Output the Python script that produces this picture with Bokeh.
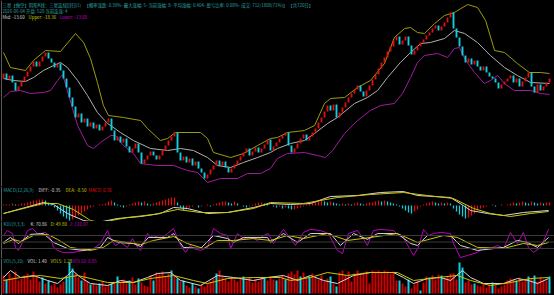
from bokeh.plotting import figure
from bokeh.layouts import column
from bokeh.models import Range1d, Label, Span
from bokeh.embed import file_html
from bokeh.resources import INLINE

# ---------------- data ----------------
first_open = 14.8
close = [15.3, 14.7, 15.1, 14.4, 13.6, 14.0, 14.5, 15.0, 15.5, 16.0,
         16.5, 16.0, 16.5, 17.0, 17.4, 16.8, 16.4, 15.9, 16.3, 15.6,
         14.8, 13.9, 12.9, 12.0, 10.9, 11.3, 10.4, 10.8, 10.0, 10.4,
         9.8, 10.2, 9.6, 10.0, 10.4, 10.8, 9.6, 8.6, 9.0, 8.4,
         8.8, 8.0, 7.4, 7.8, 8.3, 7.4, 6.3, 6.7, 7.1, 7.5,
         7.1, 6.7, 7.1, 7.6, 8.1, 8.6, 9.0, 9.4, 7.4, 6.6,
         7.0, 6.4, 6.8, 6.1, 6.5, 5.8, 5.4, 4.8, 5.2, 5.7,
         6.1, 6.6, 6.1, 6.5, 5.9, 5.4, 5.8, 6.2, 6.6, 7.0,
         7.4, 7.8, 7.1, 7.5, 7.9, 7.4, 7.8, 8.2, 8.7, 7.6,
         8.0, 8.4, 8.8, 9.1, 9.4, 8.1, 7.4, 7.8, 8.3, 8.8,
         9.2, 8.6, 9.0, 9.4, 9.8, 10.4, 10.9, 11.5, 12.1, 11.6,
         12.2, 10.9, 11.4, 11.9, 12.4, 12.9, 13.3, 13.7, 14.1, 13.5,
         13.0, 13.6, 14.1, 14.7, 15.2, 15.8, 16.4, 16.9, 17.5, 18.0,
         18.6, 19.0, 18.2, 18.6, 19.0, 18.1, 17.2, 17.6, 18.0, 18.4,
         18.7, 19.1, 19.4, 19.8, 20.1, 19.6, 20.0, 20.4, 20.9, 21.4,
         19.8, 18.9, 18.0, 17.1, 16.4, 16.8, 16.2, 16.6, 16.0, 15.6,
         16.0, 15.4, 15.0, 14.8, 14.4, 13.8, 14.2, 14.5, 14.8, 15.1,
         14.4, 14.8, 14.0, 14.5, 14.9, 15.4, 14.0, 13.4, 14.2, 13.6,
         14.0, 14.4, 14.8]

upper_x = [0, 2.3, 7.3, 10, 14, 19, 24, 26.7, 29, 31.3, 33.3, 35, 40, 45.7, 48, 52.3,
           54.7, 57.3, 65.7, 68, 70, 75.7, 80, 84.7, 89, 91.3, 94.7, 100.3, 103.7, 107,
           109, 113.7, 118, 122.3, 127, 130.3, 133.7, 135.7, 138, 140.3, 143.7, 147,
           150.3, 154.7, 158, 160.7, 163.7, 167, 171.3, 175.3, 179, 182]
upper_y = [17.4, 15.9, 15.6, 16.6, 17.6, 17.5, 19.3, 18.4, 16.8, 14.4, 12.1, 11.1, 10.9,
           10.6, 9.8, 8.6, 8.8, 9.4, 9.4, 8.8, 7.4, 6.9, 7.3, 8.1, 8.8, 8.9, 9.4, 9.6,
           10.1, 12.3, 12.8, 12.9, 13.9, 14.6, 16.3, 18.9, 19.8, 19.9, 19.4, 19.3, 20.3,
           21.1, 21.4, 22.2, 21.9, 20.6, 17.6, 17.4, 16.3, 15.4, 15.4, 15.3]
mid_x = [0, 3.3, 7.3, 10, 13.3, 16.7, 19, 21.3, 24.7, 28, 31.3, 34.7, 39, 43.3, 49, 54.7,
         59, 63.3, 68, 71.3, 75.7, 80, 84.7, 89, 91.3, 95.7, 100.3, 103.7, 108, 111.3,
         117, 121.3, 124.7, 128, 132.3, 135.7, 139, 142.3, 147, 150.3, 153.7, 158, 162.3,
         167, 171.3, 175.7, 182]
mid_y = [14.8, 14.6, 14.5, 14.9, 15.6, 16.1, 16.4, 15.9, 14.6, 13.1, 11.4, 10.3, 9.4, 8.6,
         7.8, 7.6, 7.8, 7.6, 6.9, 6.1, 5.9, 6.4, 6.9, 7.4, 7.8, 8.3, 8.6, 9.3, 10.3, 10.9,
         12.3, 12.9, 13.6, 14.9, 16.4, 17.4, 18.3, 18.4, 18.8, 19.6, 19.3, 18.4, 17.1,
         15.9, 15.1, 14.4, 14.3]
lower_x = [0, 2.3, 5.7, 9, 13.3, 15.7, 18, 19.7, 21.3, 23, 24.7, 28, 30, 32.3, 35.7, 37.3,
           40, 43.3, 45.7, 51.3, 56.7, 61.3, 64.7, 68, 72.3, 78, 81.3, 85.7, 89, 91.3,
           94.7, 100.3, 104.7, 107.3, 109.7, 113.7, 118, 122.3, 125.7, 130.3, 133, 135.7,
           138, 140.3, 144.7, 148, 150.3, 152, 153.7, 157, 160.3, 162.3, 164.7, 167, 170.3,
           175.7, 179, 182]
lower_y = [12.9, 13.5, 13.6, 13.3, 13.4, 13.6, 14.6, 15.2, 13.6, 11.8, 10.1, 8.1, 7.8, 8.4,
           9.1, 9.1, 8.1, 7.3, 6.3, 6.1, 6.1, 5.6, 5.4, 4.4, 4.8, 4.8, 5.3, 5.3, 5.8, 6.8,
           7.3, 7.4, 7.1, 6.9, 7.6, 9.3, 10.6, 11.6, 12.1, 12.3, 13.3, 14.9, 16.4, 17.1,
           17.3, 16.9, 17.8, 17.9, 16.8, 15.4, 14.3, 14.6, 15.1, 14.3, 13.6, 13.6, 13.3, 13.2]

macd_hist = [0.1, 0.1, 0.1, 0.2, 0.1,
             0.1, 0.2, 0.2, 0.3, 0.4, 0.5, 0.5, 0.6, 0.6,
             0.5, 0.3, 0.1,
             -0.2, -0.5, -0.8, -1.1, -1.3, -1.5,
             -1.4,
             -1.2, -1.0, -0.8, -0.6, -0.4, -0.2,
             -0.1, 0.0, 0.1, 0.1,
             0.2, 0.4, 0.5, 0.3,
             0.1, -0.1, -0.2, -0.1,
             0.1, 0.2, 0.3, 0.4, 0.3, 0.4, 0.2,
             0.1, 0.2, 0.3,
             0.4, 0.5, 0.6, 0.7, 0.8, 0.8,
             0.3, -0.2, -0.5, -0.4,
             -0.2, -0.1, 0.0, -0.2, -0.1, 0.0, 0.1, -0.1, 0.1,
             0.2, 0.3, 0.4, 0.4, 0.3, 0.2, 0.4,
             0.2, 0.0, -0.1, -0.2, -0.1, 0.1,
             0.2, 0.3, 0.3, 0.2, 0.1, 0.0,
             -0.1, -0.2, -0.1, -0.3, -0.2, -0.3,
             -0.4, -0.4, -0.3, -0.2,
             -0.1, 0.1, 0.2, 0.3,
             0.4, 0.5, 0.5, 0.4, 0.3, 0.4, 0.3,
             0.2, 0.1, 0.2, 0.1,
             0.2, 0.1, 0.2, 0.3, 0.2, 0.1, 0.2, 0.3,
             0.3, 0.4, 0.5, 0.4, 0.5, 0.4, 0.3, 0.2, 0.1,
             -0.1, -0.3, -0.5, -0.7, -0.8, -0.6, -0.4,
             -0.1, 0.1, 0.2, 0.3, 0.4, 0.3, 0.2, 0.3,
             0.2, 0.3, 0.2,
             -0.3, -0.6, -0.9, -1.1, -1.3, -1.2,
             -1.0, -0.8, -0.5, -0.3, -0.2,
             -0.1, 0.0, 0.1, -0.1, 0.0, 0.1, 0.0, 0.1,
             0.2, 0.3, 0.2, 0.3, 0.4, 0.3, 0.2, 0.4, 0.3,
             0.2, 0.3, 0.2, 0.3, 0.3]
dif_x = [0, 13.3, 16.7, 21.3, 26.7, 31.3, 38, 45.7, 52.3, 56.7, 61.3, 68, 74.7, 83.3, 89,
         95.7, 102.3, 109, 118, 125.7, 133.3, 138, 149, 153.3, 155.7, 161.3, 166.7, 173.3, 181.7]
dif_y = [-0.8, 0.3, 0.1, -0.8, -1.5, -1.7, -1.3, -1.1, -0.8, -0.2, -0.3, -0.8, -0.7, -0.2,
         0.2, 0.1, 0.2, 0.9, 1.0, 1.3, 1.4, 1.0, 0.8, 0.0, -0.5, -0.8, -1.0, -0.7, -0.5]
dea_x = [0, 13.3, 18, 23.3, 29, 32.3, 41.3, 50, 58, 65.7, 74.7, 83.3, 89, 100, 111.3, 122.3,
         133.3, 141.3, 150, 156.7, 162.3, 169, 175.7, 181.7]
dea_y = [-0.8, 0.2, 0.2, -0.4, -1.5, -1.7, -1.2, -0.9, -0.4, -0.7, -0.7, -0.3, 0.3, 0.2, 0.8,
         1.1, 1.3, 1.0, 0.7, -0.3, -0.8, -1.1, -0.8, -0.6]

j_x = [0, 1.3, 3, 4, 5, 6.3, 8, 9.7, 11.3, 12.3, 14, 15.7, 16.7, 18, 19.7, 23.3, 26.7, 30,
       32.3, 34.7, 35.7, 37.3, 39, 41.3, 43, 44.7, 45.7, 48, 49, 50, 52.3, 54.7, 56.7, 59,
       60.7, 62.3, 63.3, 65.7, 68, 70, 72.3, 74.7, 75.7, 78, 80, 82.3, 84.7, 86.7, 88.3,
       90, 92.3, 93.3, 95.7, 97.3, 100, 102.3, 105.7, 108.3, 111.3, 113, 115, 118, 119.7,
       121.3, 123.3, 125.7, 130, 131.7, 133.3, 135.7, 136.7, 138.3, 140, 141.7, 143.3,
       145.7, 149, 150, 152.3, 154.7, 158, 160, 162.3, 164.7, 166.7, 169, 171.3, 173.3,
       175, 176.7, 179, 181.7]
j_y = [80, 103, 89, 25, 11, 48, 103, 112, 89, 89, 94, 66, 25, 11, 2, 2, 11, 20, 43, 103, 66,
       34, 48, 25, 66, 25, 11, 89, 71, 80, 66, 89, 112, 34, 2, 34, 20, 11, 25, 112, 89, 80,
       20, 89, 66, 71, 57, 80, 89, 43, 89, 108, 66, 34, 94, 108, 103, 89, 11, -3, 89, 103,
       71, 34, 103, 108, 103, 80, 71, 11, -12, 25, 108, 80, 89, 94, 89, 43, -22, -12, 2,
       25, 20, 34, 20, 94, 43, 94, 25, 2, 25, 108]
k_x = [0, 2.3, 5, 9, 13.3, 16.7, 21.3, 26.7, 32.3, 34.7, 38, 43.3, 45.7, 48.3, 54.7, 56.7,
       60, 65.7, 70, 74.7, 76.7, 80, 88, 89, 93.3, 98, 102.3, 109, 112.3, 116.7, 121.3,
       124.7, 131.3, 135.7, 138, 141.3, 149, 152.3, 158, 166.7, 171.3, 174.7, 178, 181.7]
k_y = [48, 71, 43, 85, 89, 48, 20, 11, 25, 71, 48, 43, 29, 71, 71, 89, 25, 20, 80, 66, 48,
       71, 71, 48, 89, 48, 89, 89, 34, 89, 62, 89, 89, 43, 34, 80, 80, 34, 11, 25, 57, 48,
       25, 71]
d_x = [0, 3.3, 5.7, 10, 14.7, 18, 22.3, 29, 33.3, 36.7, 45.7, 50, 56.7, 61.3, 66.7, 71.3,
       76.7, 83.3, 89, 94.7, 100, 108, 114.7, 122.3, 131.3, 138, 146.7, 151.3, 158, 166.7,
       173.3, 178, 181.7]
d_y = [43, 62, 52, 80, 85, 62, 25, 11, 25, 57, 38, 57, 75, 43, 20, 57, 57, 66, 57, 80, 66,
       89, 57, 71, 89, 48, 80, 71, 25, 20, 43, 34, 48]
kdj_levels = [80, 50, 20]

volume = [0.90, 0.70, 1.00, 0.80, 1.10, 0.65,
          0.75, 0.90, 1.00, 0.70, 1.10, 0.85, 0.60, 0.80,
          0.50, 0.65, 0.40, 0.50, 0.30, 0.45, 0.60, 0.85, 1.55, 1.25,
          1.00, 0.80, 0.65, 1.05, 0.60,
          0.45, 0.50, 0.40, 0.50, 0.60, 0.35, 0.45, 0.50, 0.55,
          0.85, 0.60, 0.70, 0.50, 0.65, 0.80, 0.45, 0.75, 0.55,
          0.40, 0.35,
          0.90, 0.65, 1.05, 0.95, 1.10, 0.85, 1.00, 1.15, 0.90, 0.75, 0.60,
          0.65, 0.40, 0.30, 0.50, 0.35, 0.25, 0.45, 0.35, 0.50, 0.60, 0.75,
          1.00, 1.15, 0.85, 0.75, 0.60, 0.80, 0.70,
          0.60, 0.75, 0.85, 0.65, 0.80, 0.55, 0.70, 0.60, 0.80, 0.75, 0.65, 0.85, 0.70, 0.65, 0.75,
          0.90, 0.70, 1.00, 1.10, 0.95, 1.15, 0.85, 1.05, 0.75, 0.85, 1.00,
          0.80, 0.70, 0.90, 0.60, 0.75, 0.85, 0.50, 0.35,
          1.05, 1.15, 0.90, 1.10, 0.60, 1.00, 1.15, 0.95, 1.05, 1.10, 0.50,
          1.15, 1.10, 1.15, 1.05, 1.15, 1.10, 1.00, 1.10, 0.65,
          0.65, 0.50, 0.35, 0.70, 0.25, 0.45, 0.60, 0.15, 0.55,
          0.85, 0.80, 0.90, 0.70, 0.95, 0.90, 0.75, 0.85, 1.00,
          1.00, 0.70, 1.55, 1.30, 0.55, 0.65, 0.45,
          0.50, 0.40, 0.35, 0.50, 0.30, 0.45, 0.55, 0.40, 0.25, 0.35, 0.45,
          0.65, 0.75, 0.70, 0.65, 0.80, 0.60, 0.70, 0.85, 0.75, 0.90, 0.60, 0.80, 0.70, 0.65, 0.85]
vol_down_idx = [1, 13, 15, 21, 22, 23, 26, 29, 32, 36, 38, 42, 45, 50, 56, 58, 60, 63, 65,
                71, 80, 87, 91, 94, 99, 102, 109, 111, 132, 135, 139, 142, 146, 152, 153,
                157, 163, 171, 175, 177, 182]
vol_a_x = [0, 2.3, 5.7, 10, 14.7, 18, 21.3, 23, 25.7, 29, 34.7, 39, 43.3, 48, 51.3, 55.7, 59,
           65.7, 71.3, 76.7, 83.3, 88, 93.3, 98, 102.3, 106.7, 111.3, 116.7, 122.3, 130,
           133.3, 136.7, 141.3, 145.7, 149, 153, 155.7, 160, 166.7, 171.3, 175, 178, 181.7]
vol_a_y = [0.8, 1.15, 0.8, 0.9, 0.65, 0.5, 0.9, 1.15, 0.8, 0.5, 0.4, 0.65, 0.55, 0.8, 1.0,
           1.05, 0.65, 0.4, 0.9, 0.8, 0.65, 0.8, 0.9, 0.65, 0.9, 0.65, 0.5, 0.9, 1.05, 1.05,
           0.8, 0.5, 0.75, 0.8, 0.65, 1.15, 0.8, 0.5, 0.5, 0.75, 0.65, 0.5, 0.75]
vol_b_x = [0, 5.7, 12.3, 19, 24.7, 29, 34.7, 43.3, 49, 56.7, 63.3, 68, 74.7, 83.3, 92.3, 95.7,
           102.3, 108, 114.7, 122.3, 131.3, 136.7, 144.7, 151.3, 155.7, 162.3, 169, 175.7, 181.7]
vol_b_y = [0.65, 0.8, 0.9, 0.75, 0.9, 0.75, 0.55, 0.55, 0.75, 0.9, 0.65, 0.5, 0.75, 0.8, 0.8,
           0.65, 0.8, 1.05, 0.9, 1.05, 1.05, 0.65, 0.8, 0.9, 0.65, 0.4, 0.55, 0.75, 0.8]

# ---------------- style ----------------
W = 554
FONT = "Noto Sans CJK SC"
FS = "4.5px"
FS_TOP = "4.4px"
BG = "#000000"
TEAL = "#2aa3a3"
WHITE = "#d8d8d8"
YELLOW = "#c8c800"
MAGENTA = "#c000c0"
RED = "#e01010"
CYAN = "#10d0e0"
UP_BAND = "#9c9c10"
MID_BAND = "#b0b0b0"
LOW_BAND = "#a01ca0"

n = len(close)
xs = list(range(n))
opens = [first_open] + close[:-1]
tops = [max(o, c) for o, c in zip(opens, close)]
bots = [min(o, c) for o, c in zip(opens, close)]
cols = [RED if c >= o else CYAN for o, c in zip(opens, close)]

x_range = Range1d(-1, W / 3 - 1)


def make_fig(h, y0, y1):
    p = figure(width=W, height=h, x_range=x_range, y_range=Range1d(y0, y1),
               output_backend="svg", toolbar_location=None,
               x_axis_type=None, y_axis_type=None, min_border=0,
               background_fill_color=BG, border_fill_color=BG, outline_line_color=None)
    p.add_layout(Span(location=-2 / 3, dimension="height", line_color="#5a5a5a", line_width=1))
    return p


def lab(p, xpx, y, text, color, fs=FS):
    p.add_layout(Label(x=xpx, y=y, x_units="screen", text=text, text_color=color,
                       text_font=FONT, text_font_size=fs, text_baseline="middle"))


# main panel
pm = make_fig(186, 4.0, 22.6)
pm.line(upper_x, upper_y, line_color=UP_BAND, line_width=1)
pm.line(mid_x, mid_y, line_color=MID_BAND, line_width=1)
pm.line(lower_x, lower_y, line_color=LOW_BAND, line_width=1)
pm.vbar(x=xs, top=tops, bottom=bots, width=0.62, fill_color=cols, line_color=None)
lab(pm, 2, 22.2, "三星【做空】阴阳K线：三星连续回归(1)", TEAL, FS_TOP)
lab(pm, 84, 22.2, "【概率涨跌: 0.39%-  最大涨幅: 5-  当前涨幅: 8-  平均涨幅: 0.404-  盈亏比率: 0.08%-  成交: 712/1808(71%)】 【共720日】", TEAL, FS_TOP)
lab(pm, 2, 21.55, "2026-06-04 开盘: 528 当前连涨: 4", TEAL, FS_TOP)
lab(pm, 2, 21.0, "Mid: -13.60", WHITE, FS_TOP)
lab(pm, 28, 21.0, "Upper: -18.36", YELLOW, FS_TOP)
lab(pm, 59, 21.0, "Lower: -13.00", MAGENTA, FS_TOP)

# MACD panel
pmacd = make_fig(35, -1.6, 1.9)
hcols = [RED if i == 0 or macd_hist[i] >= macd_hist[i - 1] else CYAN for i in range(n)]
pmacd.vbar(x=xs, top=macd_hist, bottom=0, width=0.42, fill_color=hcols, line_color=None)
pmacd.line(dif_x, dif_y, line_color=WHITE, line_width=1)
pmacd.line(dea_x, dea_y, line_color=YELLOW, line_width=1)
lab(pmacd, 3, 1.6, "MACD(12,26,9)", TEAL)
lab(pmacd, 38, 1.6, "DIFF: -0.35", WHITE)
lab(pmacd, 65, 1.6, "DEA: -8.50", YELLOW)
lab(pmacd, 88, 1.6, "MACD: 0.36", RED)

# KDJ panel
pk = make_fig(37, -26.2, 144.6)
for lv in kdj_levels:
    pk.add_layout(Span(location=lv, dimension="width", line_color="#3c3c3c", line_width=1))
pk.line(j_x, j_y, line_color=MAGENTA, line_width=1)
pk.line(k_x, k_y, line_color=WHITE, line_width=1)
pk.line(d_x, d_y, line_color=YELLOW, line_width=1)
lab(pk, 3, 133, "KDJ(9,3,3)", TEAL)
lab(pk, 30, 133, "K: 70.86", WHITE)
lab(pk, 50, 133, "D: 49.80", YELLOW)
lab(pk, 69, 133, "J: 110.07", MAGENTA)

# VOL panel
pv = make_fig(37, -0.1, 1.75)
down = set(vol_down_idx)
vcols = [CYAN if i in down else "#d00000" for i in range(n)]
pv.vbar(x=xs, top=volume, bottom=0, width=0.66, fill_color=vcols, line_color=None)
pv.line(vol_a_x, vol_a_y, line_color=WHITE, line_width=1)
pv.line(vol_b_x, vol_b_y, line_color=YELLOW, line_width=1)
lab(pv, 3, 1.65, "VOL(5,10)", TEAL)
lab(pv, 27, 1.65, "VOL: 1.40", WHITE)
lab(pv, 50, 1.65, "VOL5: 1.28", YELLOW)
lab(pv, 72, 1.65, "VOL10: 0.85", MAGENTA)

layout = column(pm, pmacd, pk, pv, spacing=0, styles={"background-color": BG})
html = file_html(layout, INLINE, title="chart")
html = html.replace("<body>", '<body style="margin:0;background:#000;">')
open("out.html", "w").write(html)
